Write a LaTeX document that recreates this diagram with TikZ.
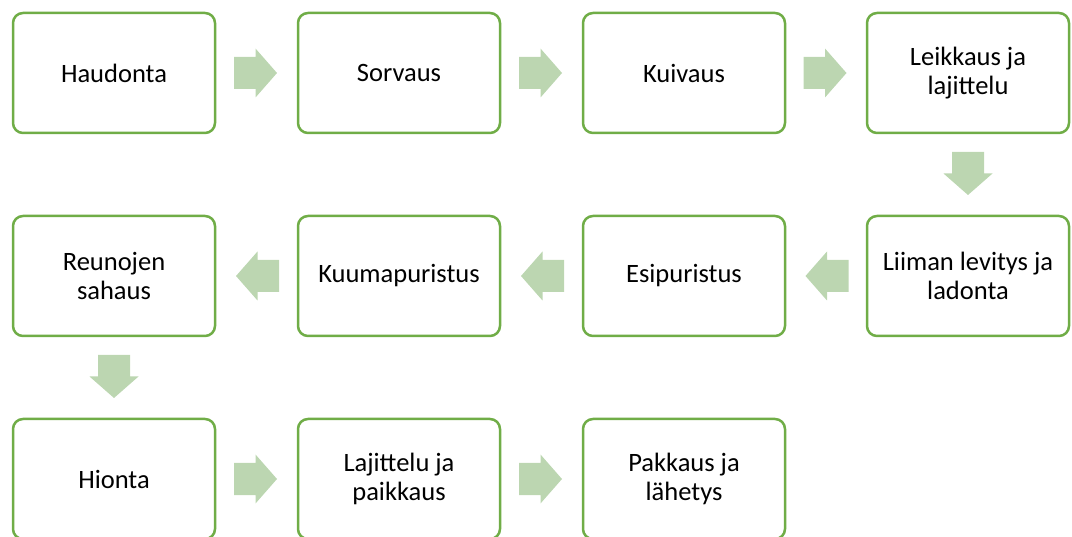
\documentclass[tikz,border=0pt]{standalone}
\usepackage{fontspec}
\setmainfont{Carlito}
\usetikzlibrary{calc}
\definecolor{stepgreen}{RGB}{112,173,71}
\definecolor{arrowgreen}{RGB}{188,214,177}
% block arrow centred on a named coordinate, turned by the given angle
\newcommand{\flowarrow}[2]{%
  \fill[arrowgreen,shift={(#1)},rotate=#2]
    (-21.5,-16) -- (0,-16) -- (0,-24.5) -- (21.5,0) -- (0,24.5) -- (0,16) -- (-21.5,16) -- cycle;}
\begin{document}
\begin{tikzpicture}[x=1pt,y=-1pt,
  stepbox/.style={draw=stepgreen,line width=2.5pt,rounded corners=10pt,fill=white,
    minimum width=202pt,minimum height=120pt,inner sep=0pt,align=center,
    font=\fontsize{26.5}{29}\selectfont}]
\useasboundingbox (0,0) rectangle (1072,537);
\clip (0,0) rectangle (1072,537);
% first row
\node[stepbox] (b1) at (114,73) {Haudonta};
\node[stepbox] (b2) at (399,73) {Sorvaus};
\node[stepbox] (b3) at (684,73) {Kuivaus};
\node[stepbox] (b4) at (968,73) {Leikkaus ja\\lajittelu};
% second row
\node[stepbox] (b5) at (968,276) {Liiman levitys ja\\ladonta};
\node[stepbox] (b6) at (684,276) {Esipuristus};
\node[stepbox] (b7) at (399,276) {Kuumapuristus};
\node[stepbox] (b8) at (114,276) {Reunojen\\sahaus};
% third row
\node[stepbox] (b9) at (114,479) {Hionta};
\node[stepbox] (b10) at (399,479) {Lajittelu ja\\paikkaus};
\node[stepbox] (b11) at (684,479) {Pakkaus ja\\lähetys};
% centres of the block arrows between the steps
\coordinate (a1) at ($(b1.east)!0.5!(b2.west)+(-1,0)$);
\coordinate (a2) at ($(b2.east)!0.5!(b3.west)+(-1,0)$);
\coordinate (a3) at ($(b3.east)!0.5!(b4.west)+(-1,0)$);
\coordinate (a4) at ($(b4.south)!0.5!(b5.north)+(0,-1)$);
\coordinate (a5) at ($(b5.west)!0.5!(b6.east)+(1,0)$);
\coordinate (a6) at ($(b6.west)!0.5!(b7.east)+(1,0)$);
\coordinate (a7) at ($(b7.west)!0.5!(b8.east)+(1,0)$);
\coordinate (a8) at ($(b8.south)!0.5!(b9.north)+(0,-1)$);
\coordinate (a9) at ($(b9.east)!0.5!(b10.west)+(-1,0)$);
\coordinate (a10) at ($(b10.east)!0.5!(b11.west)+(-1,0)$);
\flowarrow{a1}{0}
\flowarrow{a2}{0}
\flowarrow{a3}{0}
\flowarrow{a4}{-90}
\flowarrow{a5}{180}
\flowarrow{a6}{180}
\flowarrow{a7}{180}
\flowarrow{a8}{-90}
\flowarrow{a9}{0}
\flowarrow{a10}{0}
\end{tikzpicture}
\end{document}
